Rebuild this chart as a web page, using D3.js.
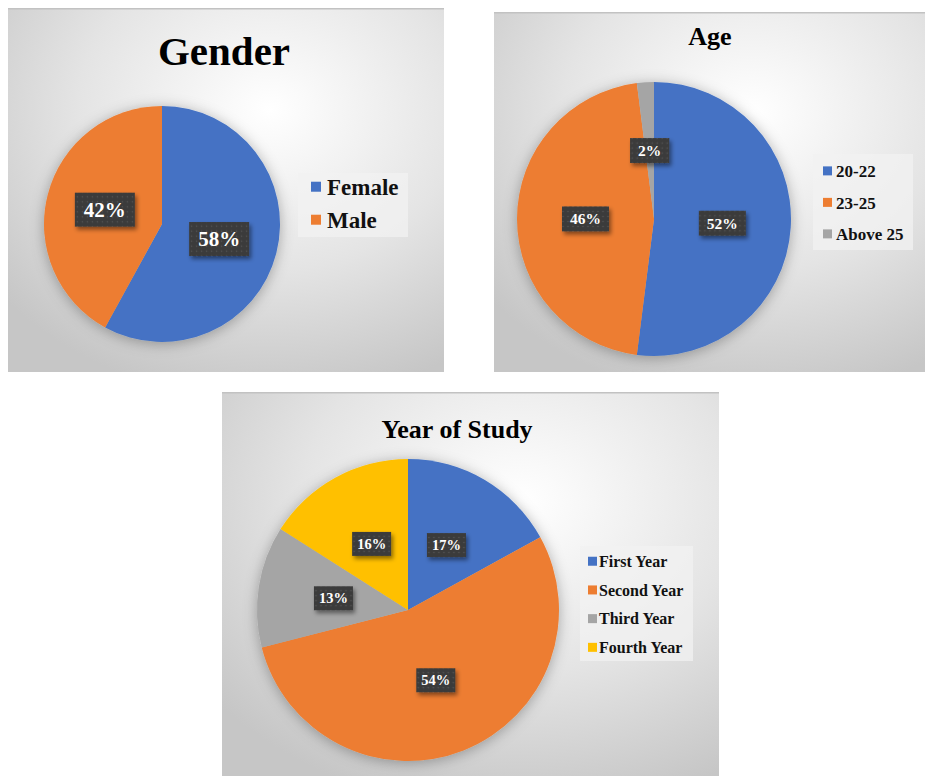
<!DOCTYPE html>
<html>
<head>
<meta charset="utf-8">
<script src="https://cdn.jsdelivr.net/npm/d3@7"></script>
<style>
  body { margin: 0; background: #ffffff; }
  svg { display: block; }
</style>
</head>
<body>
<script>
// data
const genderCats = ["Female", "Male"];
const genderVals = [58, 42];
const ageCats = ["20-22", "23-25", "Above 25"];
const ageVals = [52, 46, 2];
const yearCats = ["First Year", "Second Year", "Third Year", "Fourth Year"];
const yearVals = [17, 54, 13, 16];
const sliceColors = ["#4472C4", "#ED7D31", "#A5A5A5", "#FFC000"];

const FONT = "'Liberation Serif', 'Times New Roman', serif";
const W = 926, H = 776;
const svg = d3.select("body").append("svg").attr("width", W).attr("height", H);
const defs = svg.append("defs");

const grad = defs.append("radialGradient").attr("id", "bg")
  .attr("cx", 0.6).attr("cy", 0.28).attr("r", 0.8);
grad.append("stop").attr("offset", 0).attr("stop-color", "#ffffff");
grad.append("stop").attr("offset", 0.55).attr("stop-color", "#e4e4e4");
grad.append("stop").attr("offset", 1).attr("stop-color", "#c6c6c6");

const pieShadow = defs.append("filter").attr("id", "pieShadow")
  .attr("x", -0.2).attr("y", -0.2).attr("width", 1.4).attr("height", 1.4);
pieShadow.append("feDropShadow").attr("dx", 0).attr("dy", 2)
  .attr("stdDeviation", 7).attr("flood-color", "#000").attr("flood-opacity", 0.3);

const boxShadow = defs.append("filter").attr("id", "boxShadow")
  .attr("x", -0.3).attr("y", -0.3).attr("width", 1.6).attr("height", 1.7);
boxShadow.append("feDropShadow").attr("dx", 2).attr("dy", 3)
  .attr("stdDeviation", 2).attr("flood-color", "#000").attr("flood-opacity", 0.45);

const dots = defs.append("pattern").attr("id", "dots")
  .attr("patternUnits", "userSpaceOnUse").attr("width", 5).attr("height", 5);
dots.append("rect").attr("width", 5).attr("height", 5).attr("fill", "#3b3b3b");
dots.append("circle").attr("cx", 2.5).attr("cy", 2.5).attr("r", 0.8).attr("fill", "#575757");

const panels = [
  {title: "Gender", cats: genderCats, vals: genderVals,
   box: [8, 8, 436, 364], titleX: 224, titleY: 65, titleSize: 41,
   cx: 162, cy: 224, r: 118, labelSize: 21, labelPad: [9, 6],
   legend: {x: 298, y: 173, w: 110, h: 64, sx: 311, sw: 10, tx: 327, y0: 195, dy: 33, size: 23}},
  {title: "Age", cats: ageCats, vals: ageVals,
   box: [494, 12, 431, 360], titleX: 710, titleY: 45, titleSize: 26,
   cx: 654, cy: 219, r: 137, labelSize: 15.5, labelPad: [8, 5],
   legend: {x: 813, y: 154, w: 100, h: 96, sx: 823, sw: 9, tx: 836, y0: 177, dy: 31.5, size: 17}},
  {title: "Year of Study", cats: yearCats, vals: yearVals,
   box: [222, 392, 497, 390], titleX: 457, titleY: 438, titleSize: 26,
   cx: 408, cy: 610, r: 151, labelSize: 14.5, labelPad: [5, 5],
   legend: {x: 580, y: 546, w: 113, h: 115, sx: 588, sw: 9, tx: 599, y0: 567, dy: 28.7, size: 16}}
];

panels.forEach(p => {
  const g = svg.append("g");
  const [bx, by, bw, bh] = p.box;
  g.append("rect").attr("x", bx).attr("y", by).attr("width", bw).attr("height", bh)
    .attr("fill", "url(#bg)");
  g.append("line").attr("x1", bx).attr("x2", bx + bw).attr("y1", by + 0.75).attr("y2", by + 0.75)
    .attr("stroke", "#c2c2c2").attr("stroke-width", 1.5);

  g.append("text").attr("x", p.titleX).attr("y", p.titleY)
    .attr("text-anchor", "middle")
    .style("font-family", FONT).style("font-weight", "bold").style("font-size", p.titleSize + "px")
    .attr("fill", "#000").text(p.title);

  const color = d3.scaleOrdinal(p.cats, sliceColors);
  const pie = d3.pie().sort(null).value(d => d.v);
  const arcs = pie(p.cats.map((c, i) => ({c: c, v: p.vals[i]})));
  const arc = d3.arc().innerRadius(0).outerRadius(p.r);
  const labelArc = d3.arc().innerRadius(p.r * 0.5).outerRadius(p.r * 0.5);

  const pg = g.append("g").attr("transform", `translate(${p.cx},${p.cy})`);
  pg.append("g").attr("filter", "url(#pieShadow)")
    .selectAll("path").data(arcs).join("path")
    .attr("d", arc).attr("fill", d => color(d.data.c));

  const lab = pg.selectAll("g.lab").data(arcs).join("g").attr("class", "lab")
    .attr("transform", d => `translate(${labelArc.centroid(d)})`);
  lab.each(function(d) {
    const el = d3.select(this);
    const rect = el.append("rect").attr("fill", "url(#dots)").attr("filter", "url(#boxShadow)");
    const t = el.append("text").attr("text-anchor", "middle").attr("dy", "0.35em")
      .style("font-family", FONT).style("font-weight", "bold")
      .style("font-size", p.labelSize + "px")
      .attr("fill", "#ffffff").text(d.data.v + "%");
    const bb = t.node().getBBox();
    rect.attr("x", bb.x - p.labelPad[0]).attr("y", bb.y - p.labelPad[1] + 1)
      .attr("width", bb.width + 2 * p.labelPad[0]).attr("height", bb.height + 2 * p.labelPad[1] - 2);
  });

  const L = p.legend;
  const lg = g.append("g");
  lg.append("rect").attr("x", L.x).attr("y", L.y).attr("width", L.w).attr("height", L.h)
    .attr("fill", "#f2f2f2").attr("fill-opacity", 0.75);
  p.cats.forEach((c, i) => {
    const yb = L.y0 + i * L.dy;
    lg.append("rect").attr("x", L.sx).attr("y", yb - L.size * 0.36 - L.sw / 2)
      .attr("width", L.sw).attr("height", L.sw).attr("fill", color(c));
    lg.append("text").attr("x", L.tx).attr("y", yb)
      .style("font-family", FONT).style("font-weight", "bold")
      .style("font-size", L.size + "px")
      .attr("fill", "#111").text(c);
  });
});
</script>
</body>
</html>
